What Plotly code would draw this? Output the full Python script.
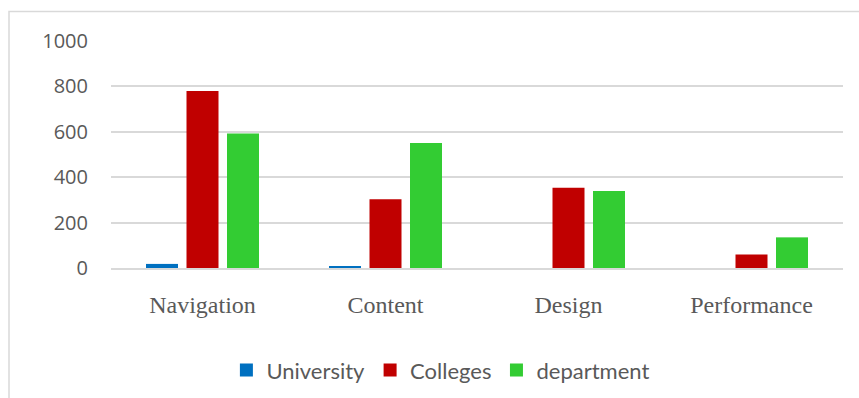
import plotly.graph_objects as go

categories = ["Navigation", "Content", "Design", "Performance"]
university = [18, 6, 0, 0]
colleges = [780, 303, 354, 60]
department = [593, 551, 339, 135]
series_names = ["University", "Colleges", "department"]
colors = ["#0070C0", "#C00000", "#33CC33"]
y_ticks = [0, 200, 400, 600, 800, 1000]

W, H = 859, 398
ml, mr, mt, mb = 111, 16, 41, 130

fig = go.Figure()
for name, vals, col in zip(series_names, [university, colleges, department], colors):
    fig.add_trace(go.Bar(x=categories, y=vals, name=name, marker_color=col,
                         marker_line_width=0, showlegend=False))
# legend entries with square swatches
for name, col in zip(series_names, colors):
    fig.add_trace(go.Scatter(x=[None], y=[None], mode="markers", name=name,
                             marker=dict(symbol="square", size=13, color=col)))

pw = W - ml - mr
ph = H - mt - mb
fig.add_shape(type="rect", xref="paper", yref="paper",
              x0=(9 - ml) / pw, x1=(W + 20 - ml) / pw,
              y0=-(H + 20 - mt - ph) / ph, y1=1 + (mt - 11.5) / ph,
              line=dict(color="#D9D9D9", width=1.5), layer="below")

fig.update_layout(
    width=W, height=H,
    margin=dict(l=ml, r=mr, t=mt, b=mb, autoexpand=False),
    paper_bgcolor="white", plot_bgcolor="white",
    barmode="group", bargap=0.336, bargroupgap=0.21,
    showlegend=True,
    legend=dict(orientation="h", x=0.45, xanchor="center", y=-0.45, yanchor="middle",
                font=dict(family="Lato", size=22, color="#595959"),
                itemwidth=30, traceorder="normal", tracegroupgap=0),
    xaxis=dict(showgrid=False, showline=True, linecolor="#D9D9D9", linewidth=2,
               tickfont=dict(family="Liberation Serif", size=24, color="#595959"),
               ticks="", ticklabelstandoff=14, automargin=False),
    yaxis=dict(range=[0, 1000], tickvals=y_ticks, showgrid=True, gridcolor="#D9D9D9",
               gridwidth=1.5, zeroline=False, showline=False,
               tickfont=dict(family="Open Sans", size=20, color="#595959"),
               ticks="", ticklabelstandoff=22, automargin=False),
)

fig.write_html("out.html")
